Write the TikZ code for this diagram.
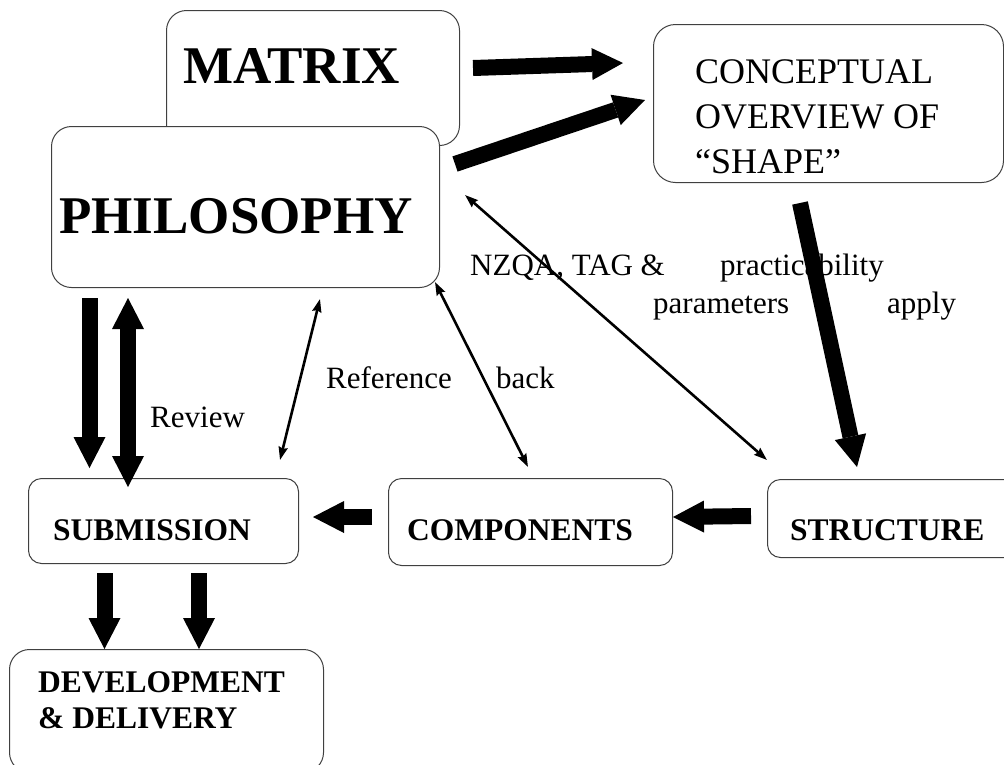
\documentclass[tikz,border=0pt]{standalone}
\usepackage{fontspec}
\setmainfont{Liberation Serif}
\usetikzlibrary{arrows.meta}
\begin{document}
\begin{tikzpicture}[x=1pt,y=-1pt,
  box/.style={draw=black!75,line width=1pt,rounded corners=#1,fill=white,inner sep=0pt,anchor=north west},
  bigtxt/.style={font=\fontsize{53}{60}\selectfont\bfseries,inner sep=0pt,anchor=base west},
  midtxt/.style={font=\fontsize{36}{42}\selectfont,inner sep=0pt,anchor=base west},
  boldtxt/.style={font=\fontsize{31.5}{36}\selectfont\bfseries,inner sep=0pt,anchor=base west},
  lbl/.style={font=\fontsize{31}{36}\selectfont,inner sep=0pt,anchor=base west},
  fat/.style={line width=16pt,-{Triangle[length=31pt,width=32pt,line width=0pt]}},
  fatboth/.style={line width=16pt,{Triangle[length=31pt,width=32pt,line width=0pt]}-{Triangle[length=31pt,width=32pt,line width=0pt]}},
  refline/.style={line width=2.6pt,{Stealth[length=13pt,width=9pt,inset=1.5pt]}-{Stealth[length=13pt,width=9pt,inset=1.5pt]}}
]
\useasboundingbox (0,0) rectangle (1004,764);
\clip (0,0) rectangle (1004,764);
\fill[white] (0,0) rectangle (1004,764);

% boxes
\node[box=20pt,minimum width=293pt,minimum height=135pt] (matrixbox) at (166,10) {};
\node[box=20pt,minimum width=388pt,minimum height=161pt] (philbox) at (51,126) {};
\node[box=22pt,minimum width=350pt,minimum height=158pt] (conceptbox) at (653,24) {};
\node[box=13pt,minimum width=270pt,minimum height=85pt] (subbox) at (28,478) {};
\node[box=13pt,minimum width=284pt,minimum height=87pt] (compbox) at (388,478) {};
\node[box=13pt,minimum width=263pt,minimum height=78pt] (structbox) at (767,479) {};
\node[box=20pt,minimum width=314pt,minimum height=123pt] (devbox) at (9,649) {};

% box texts
\node[bigtxt] (tmatrix) at (183,83) {MATRIX};
\node[bigtxt] (tphil) at (59,233) {PHILOSOPHY};
\node[midtxt] (tc1) at (695,83) {CONCEPTUAL};
\node[midtxt] (tc2) at (695,128) {OVERVIEW OF};
\node[midtxt] (tc3) at (695,173) {“SHAPE”};
\node[boldtxt] (tsub) at (53,540) {SUBMISSION};
\node[boldtxt] (tcomp) at (407,540) {COMPONENTS};
\node[boldtxt] (tstruct) at (790,540) {STRUCTURE};
\node[boldtxt] (tdev1) at (38,692) {DEVELOPMENT};
\node[boldtxt] (tdev2) at (38,728) {\& DELIVERY};

% labels
\node[lbl] (l1) at (470,275) {NZQA, TAG \&};
\node[lbl] (l2) at (720,275) {practicability};
\node[lbl] (l3) at (653,313) {parameters};
\node[lbl] (l4) at (887,313) {apply};
\node[lbl] (l5) at (326,388) {Reference};
\node[lbl] (l6) at (496,388) {back};
\node[lbl] (l7) at (150,427) {Review};

% arrow end coordinates
\coordinate (a1s) at (473,68);   \coordinate (a1e) at (623,63);
\coordinate (a2s) at (455,164);  \coordinate (a2e) at (645,100);
\coordinate (a3s) at (800,203);  \coordinate (a3e) at (857,467);
\coordinate (a4s) at (372,517);  \coordinate (a4e) at (313,517);
\coordinate (a5s) at (751,516);  \coordinate (a5e) at (673,517);
\coordinate (a6s) at (89.5,298); \coordinate (a6e) at (89.5,468);
\coordinate (a7s) at (128,298);  \coordinate (a7e) at (128,487);
\coordinate (a8s) at (104.5,573);\coordinate (a8e) at (104.5,649);
\coordinate (a9s) at (199,573);  \coordinate (a9e) at (199,649);
\coordinate (t1s) at (320,299);  \coordinate (t1e) at (280,460);
\coordinate (t2s) at (435,282);  \coordinate (t2e) at (528,467);
\coordinate (t3s) at (465,195);  \coordinate (t3e) at (767,460);

% thick arrows
\draw[fat] (a1s) -- (a1e);
\draw[fat] (a2s) -- (a2e);
\draw[fat] (a3s) -- (a3e);
\draw[fat] (a4s) -- (a4e);
\draw[fat] (a5s) -- (a5e);
\draw[fat] (a6s) -- (a6e);
\draw[fatboth] (a7s) -- (a7e);
\draw[fat] (a8s) -- (a8e);
\draw[fat] (a9s) -- (a9e);

% thin double arrows
\draw[refline] (t1s) -- (t1e);
\draw[refline] (t2s) -- (t2e);
\draw[refline] (t3s) -- (t3e);
\end{tikzpicture}
\end{document}
